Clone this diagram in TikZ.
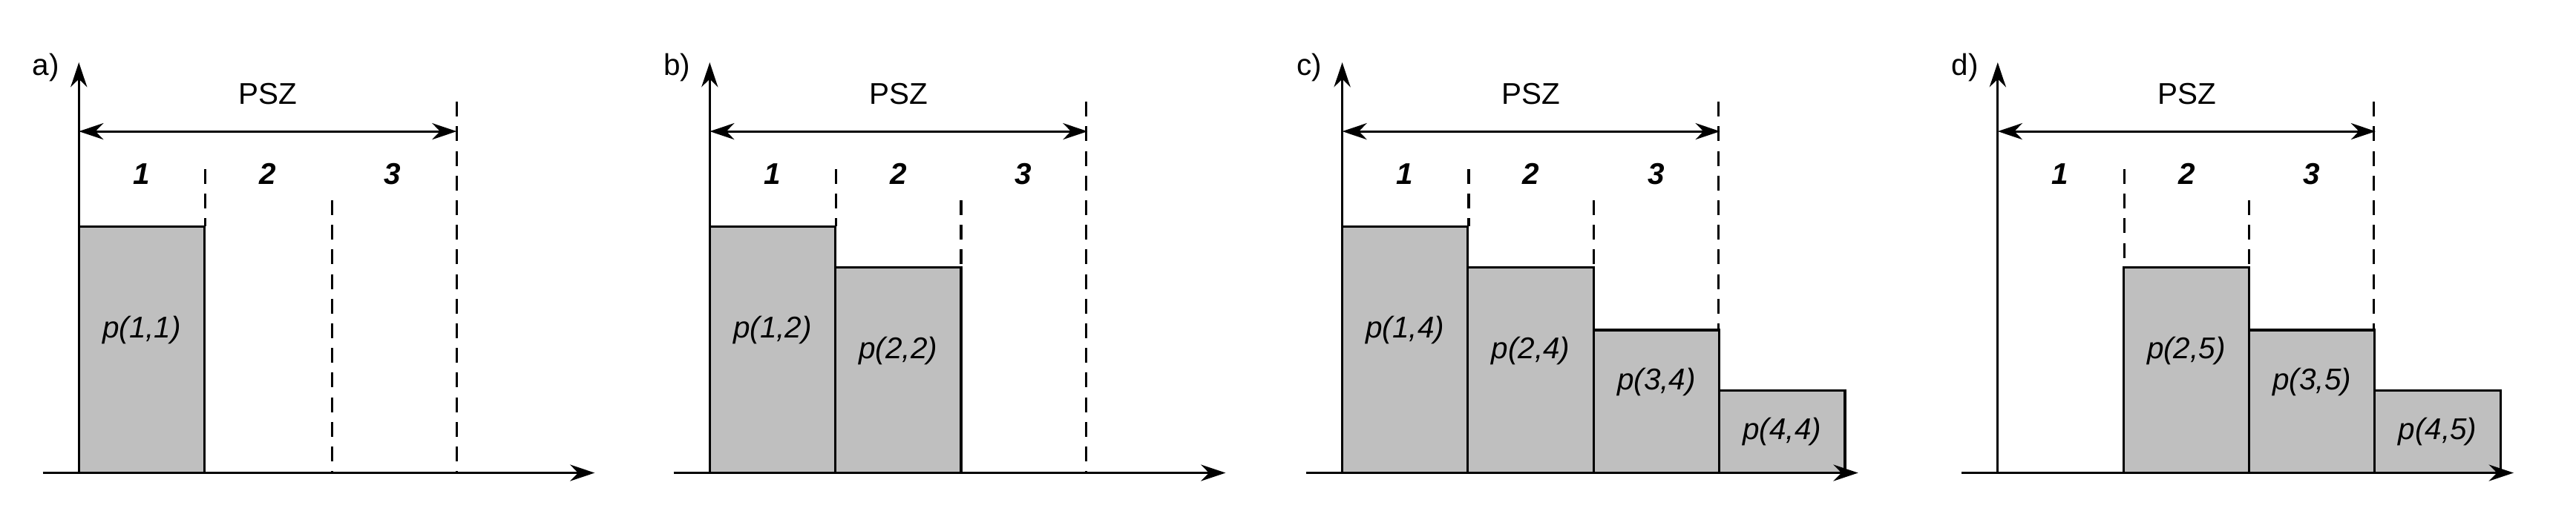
\documentclass[tikz,border=0pt]{standalone}
\usepackage{fontspec}
\setmainfont{Liberation Sans}
\usetikzlibrary{arrows.meta}
\begin{document}
\begin{tikzpicture}[x=0.05cm,y=-0.05cm,
  ax/.style={line width=2pt,-{Stealth[length=0.75cm,width=0.5cm]}},
  dim/.style={line width=2pt,{Stealth[length=0.75cm,width=0.5cm]}-{Stealth[length=0.75cm,width=0.5cm]}},
  dsh/.style={line width=2pt,dash pattern=on 0.45cm off 0.3cm},
  bar/.style={fill=black!25,draw=black,line width=2pt},
  txt/.style={font=\fontsize{26}{30}\selectfont,inner sep=0pt},
  num/.style={font=\fontsize{26}{30}\selectfont\bfseries\itshape,inner sep=0pt}]
\useasboundingbox (0,0) rectangle (1568,313);
\newcommand{\panel}[6]{%
% #1 origin x, #2 letter, #3 first bar idx, #4 last idx, #5 second index, #6 name
\begin{scope}[xshift=#1*0.05cm]
  \foreach \i/\t in {1/138,2/163,3/201,4/238}{%
    \ifnum\i<#3\else\ifnum\i>#4\else
      \draw[bar] ({(\i-1)*76.5},288) rectangle ({\i*76.5},\t);
      \node[txt,font=\fontsize{26}{30}\selectfont\itshape] (#6p\i) at ({(\i-0.5)*76.5},{(\t+288)/2+(\i==4?0:-12)}) {p(\i,#5)};
    \fi\fi}
  \coordinate (#6o) at (0,288);
  \coordinate (#6y) at (0,38);
  \coordinate (#6x) at (314,288);
  \draw[ax] (-22,288) -- (#6x);
  \draw[ax] (0,288) -- (#6y);
  \coordinate (#6l) at (0,80);
  \coordinate (#6r) at (230,80);
  \draw[dim] (#6l) -- (#6r);
  \node[txt] (#6psz) at (115,57) {PSZ};
  \node[txt] (#6lab) at (-20,41) {#2)};
  \node[num] (#6n1) at (38,106) {1};
  \node[num] (#6n2) at (115,106) {2};
  \node[num] (#6n3) at (191,106) {3};
\end{scope}}
\panel{48}{a}{1}{1}{1}{A}
\panel{432}{b}{1}{2}{2}{B}
\panel{817}{c}{1}{4}{4}{C}
\panel{1216}{d}{2}{4}{5}{D}
% dashed lines: panel a
\draw[dsh] (125,103) -- (125,138);
\draw[dsh] (202,122) -- (202,288);
\draw[dsh] (278,62) -- (278,288);
% panel b
\draw[dsh] (509,103) -- (509,138);
\draw[dsh] (585,122) -- (585,163);
\draw[dsh] (661,62) -- (661,288);
% panel c
\draw[dsh] (894,103) -- (894,138);
\draw[dsh] (970,122) -- (970,163);
\draw[dsh] (1046,62) -- (1046,201);
% panel d
\draw[dsh] (1293,103) -- (1293,163);
\draw[dsh] (1369,122) -- (1369,163);
\draw[dsh] (1445,62) -- (1445,201);
\end{tikzpicture}
\end{document}
